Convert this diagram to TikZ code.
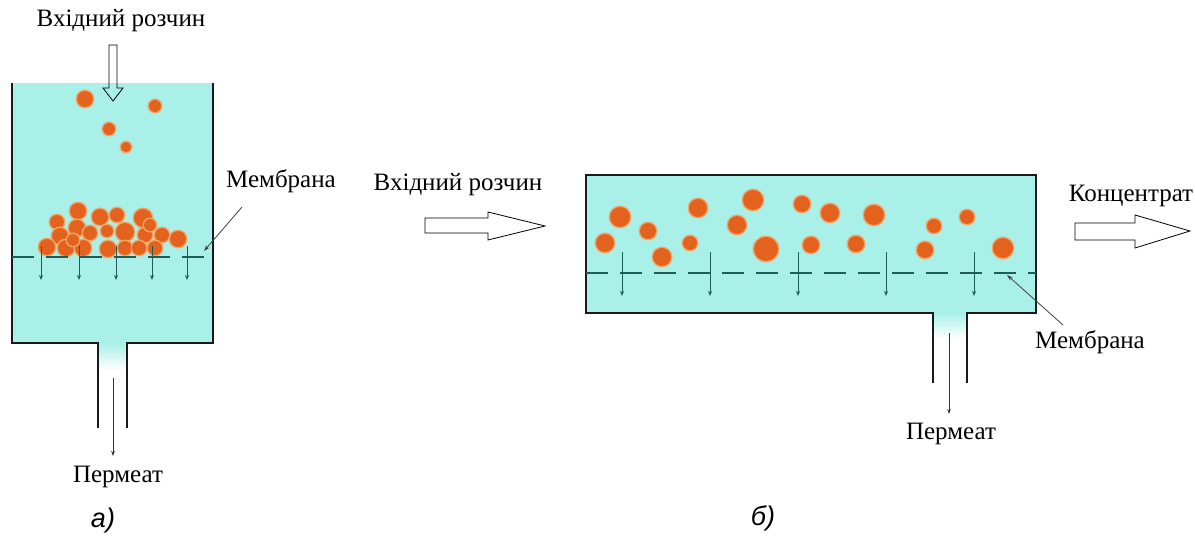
\documentclass[tikz,border=0pt]{standalone}
\usepackage{fontspec}
\setmainfont{Liberation Serif}
\newfontfamily\capsans{Liberation Sans}
\usetikzlibrary{arrows.meta}
\definecolor{liquid}{HTML}{A9F0E8}
\definecolor{particle}{HTML}{E2621E}
\definecolor{halo}{HTML}{F2A66A}
\definecolor{membranecol}{HTML}{1E5C58}
\definecolor{wallcol}{HTML}{1A1A1A}
\begin{document}
\begin{tikzpicture}[x=1pt,y=-1pt,
  wall/.style={draw=wallcol,line width=2.8pt,line join=miter},
  membrane/.style={draw=membranecol,line width=1.6pt,dash pattern=on 22pt off 12pt},
  flow/.style={draw=membranecol,line width=1pt,-{Stealth[length=5pt,width=4pt]}},
  lbl/.style={font=\fontsize{25}{27}\selectfont,inner sep=0pt},
  caption/.style={font=\capsans\itshape\fontsize{27}{29}\selectfont,inner sep=0pt},
  hollow/.style={draw=black,line width=0.8pt,line join=miter},
  lead/.style={draw=black!75,line width=0.8pt,-{Stealth[length=6pt,width=4pt]}},
  thin/.style={draw=black!80,line width=0.8pt,-{Stealth[length=5pt,width=3.5pt]}},
]
\useasboundingbox (0,0) rectangle (1195,537);
\fill[white] (0,0) rectangle (1195,537);

% ---------- a) dead-end cell ----------
\fill[liquid] (12,83) rectangle (213,343);
\shade[top color=liquid,bottom color=white] (98,343) rectangle (127,370);
\draw[wall] (12,83) -- (12,343) -- (98,343) -- (98,428);
\draw[wall] (213,83) -- (213,343) -- (127,343) -- (127,428);

% feed arrow from above
\draw[hollow] (109,45) -- (117,45) -- (117,88) -- (123,88) -- (113,101) -- (103,88) -- (109,88) -- cycle;

% particles
\foreach \x/\y/\r in {85/99/8,155/106/6,109/129/6,126/147/5,
  78/211/8,100/217/8,117/215/7,143/218/9,57/222/7,77/228/8,90/233/7,107/231/6,
  125/232/9,145/235/7,162/235/7,178/239/8,60/236/8,47/247/8,66/248/8,83/248/8,
  108/249/8,125/248/7,139/248/7,155/248/7,73/240/6,150/225/6}{
  \fill[halo] (\x,\y) circle (\r+1.5);
  \fill[particle] (\x,\y) circle (\r);
}

% membrane and permeate flow
\draw[membrane] (12,257) -- (213,257);
\foreach \x in {41,79,116,152,187}{
  \draw[flow] (\x,246) -- (\x,280);
}

\node[lbl] (inL) at (121,21) {Вхідний розчин};
\node[lbl] (membL) at (281,181) {Мембрана};
\node[lbl] (permL) at (118,477) {Пермеат};
\node[caption] (capA) at (103,521) {а)};
\coordinate (membLtip) at (204,251);
\coordinate (membLfoot) at (242,207);
\coordinate (permLtop) at (113,378);
\draw[lead] (membLfoot) -- (membLtip);
\draw[thin] (permLtop) -- (permLtop |- 0,456);

% ---------- b) cross-flow cell ----------
\fill[liquid] (586,175) rectangle (1036,313);
\shade[top color=liquid,bottom color=white] (933,313) rectangle (967,338);
\draw[wall] (933,383) -- (933,313) -- (586,313) -- (586,175) -- (1036,175) -- (1036,313) -- (967,313) -- (967,383);

\foreach \x/\y/\r in {620/217/10,605/243/9,648/231/8,662/257/9,690/243/7,698/208/9,
  737/225/9,753/200/10,766/249/12,802/204/8,811/245/8,830/213/9,856/244/8,874/215/10,
  934/226/7,967/217/7,925/250/8,1003/248/10}{
  \fill[halo] (\x,\y) circle (\r+1.5);
  \fill[particle] (\x,\y) circle (\r);
}

\draw[membrane] (586,273) -- (1036,273);
\foreach \x in {622,710,798,886,974}{
  \draw[flow] (\x,252) -- (\x,296);
}

% feed and concentrate arrows
\draw[hollow] (425,218) -- (488,218) -- (488,212) -- (545,226) -- (488,240) -- (488,233) -- (425,233) -- cycle;
\draw[hollow] (1075,223) -- (1135,223) -- (1135,215) -- (1190,231) -- (1135,248) -- (1135,240) -- (1075,240) -- cycle;

\node[lbl] (inM) at (458,185) {Вхідний розчин};
\node[lbl] (conc) at (1131,196) {Концентрат};
\node[lbl] (membR) at (1090,342) {Мембрана};
\node[lbl] (permR) at (951,434) {Пермеат};
\node[caption] (capB) at (763,518) {б)};
\coordinate (membRtip) at (1007,275);
\coordinate (membRfoot) at (1063,325);
\coordinate (permRtop) at (949,333);
\draw[lead] (membRfoot) -- (membRtip);
\draw[thin] (permRtop) -- (permRtop |- 0,414);
\end{tikzpicture}
\end{document}
